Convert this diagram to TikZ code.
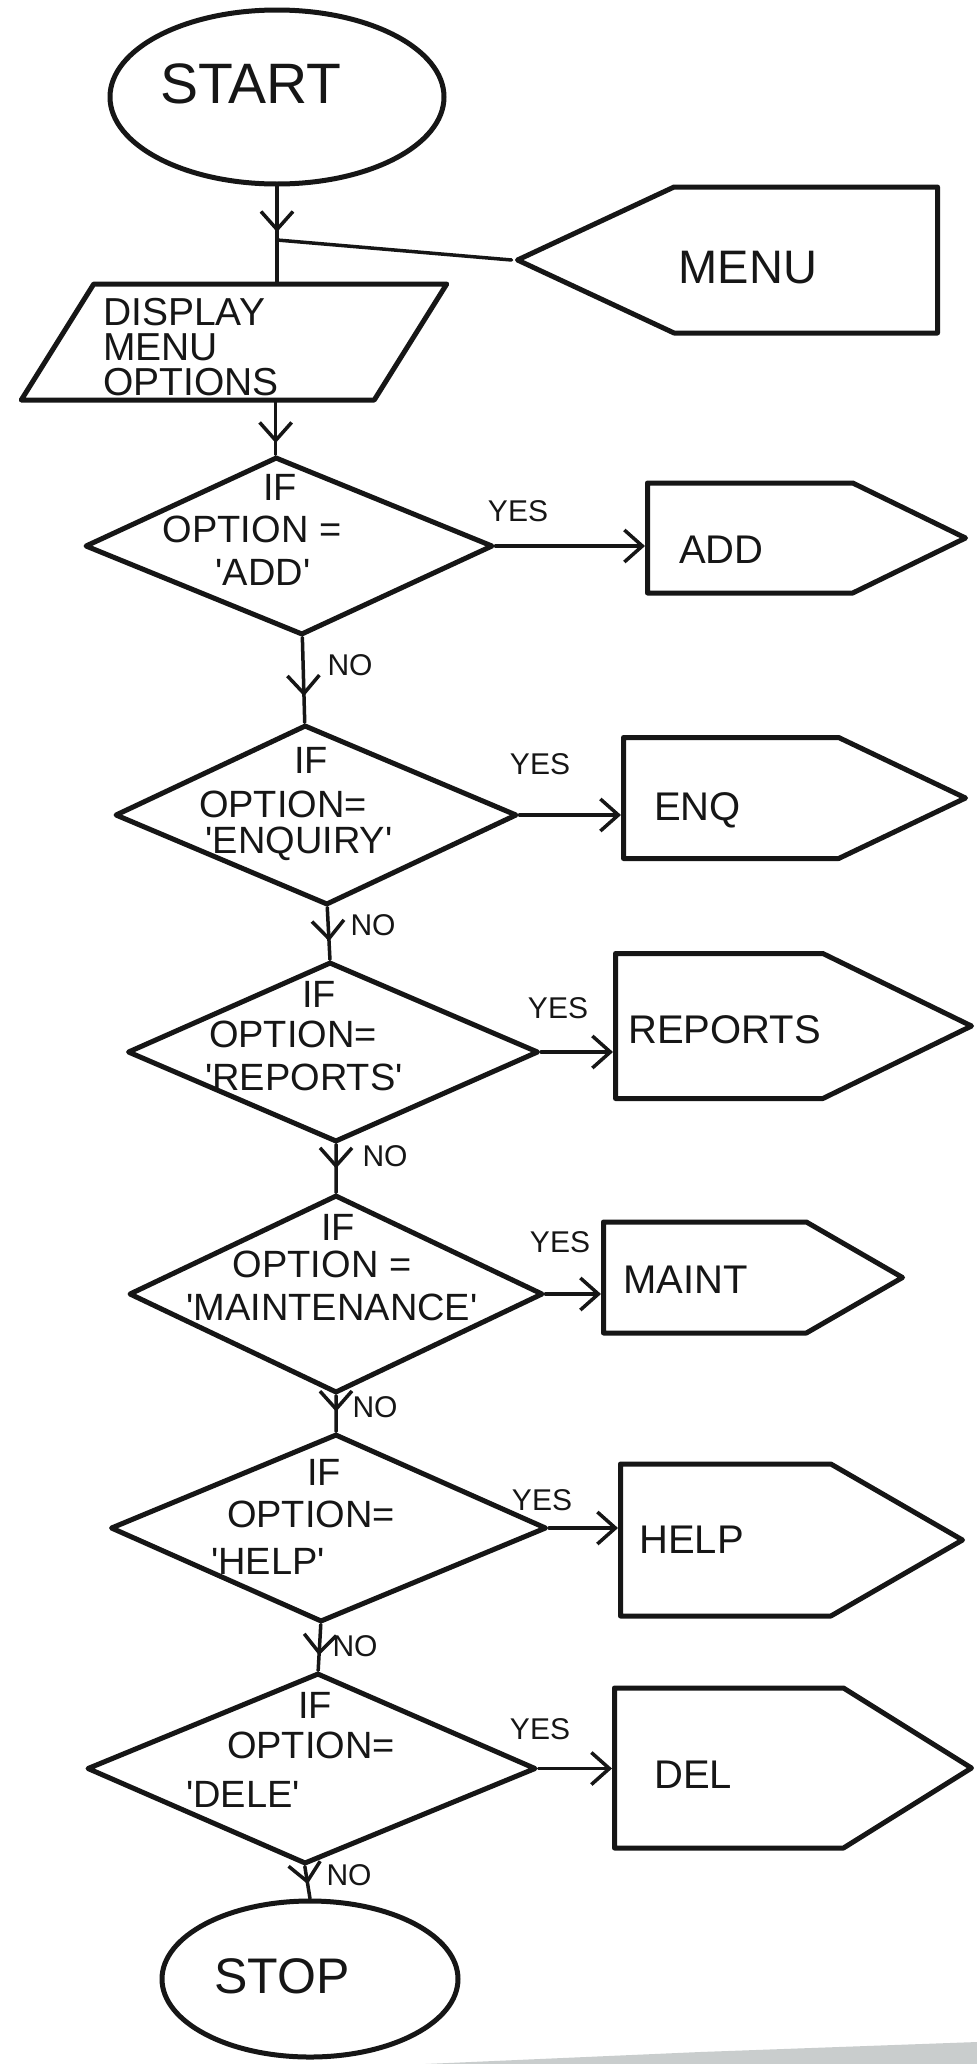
\documentclass[tikz,border=0pt]{standalone}
\usepackage{fontspec}
\setmainfont{Liberation Sans}
\usetikzlibrary{shapes.geometric,shapes.symbols,arrows.meta,decorations.markings}
\definecolor{ink}{HTML}{161616}
\definecolor{scan}{HTML}{C9CDCD}
\newcommand{\hq}{\textquotesingle}
\begin{document}
\begin{tikzpicture}[x=1pt,y=-1pt,
  outline/.style={draw=ink,line width=5pt,line join=round,inner sep=0pt},
  conn/.style={draw=ink,line width=3.5pt,line cap=round},
  tipV/.tip={Straight Barb[length=18pt,width=32pt]},
  flow/.style={conn,-{tipV}},
  midflow/.style={conn,postaction={decorate,decoration={markings,
      mark=at position #1 with {\arrow{tipV}}}}},
  midflow/.default=0.65,
  txt/.style={inner sep=0pt,text=ink},
  endtxt/.style={txt,font=\fontsize{57}{60}\selectfont},
  menutxt/.style={txt,font=\fontsize{47}{50}\selectfont},
  disptxt/.style={txt,anchor=base west,font=\fontsize{39}{40}\selectfont},
  dtxt/.style={txt,anchor=base,font=\fontsize{38}{40}\selectfont},
  btxt/.style={txt,anchor=base west,font=\fontsize{40}{42}\selectfont},
  ytxt/.style={txt,font=\fontsize{30}{32}\selectfont},
  choice/.style={outline,diamond},
  subbox/.style={outline,signal,signal to=east,anchor=west}
]
\fill[white] (0,0) rectangle (977,2064);
\useasboundingbox (0,0) rectangle (977,2064);
\fill[scan] (425,2064) -- (700,2052) -- (977,2042) -- (977,2064) -- cycle;

% terminals
\node[outline,ellipse,minimum width=334pt,minimum height=174pt] (start) at (277,97) {};
\node[endtxt,anchor=base] (startT) at (251,103) {START};
\node[outline,ellipse,minimum width=296pt,minimum height=156pt] (stop) at (310,1979) {};
\node[endtxt,anchor=base,font=\fontsize{50}{52}\selectfont] (stopT) at (282,1993) {STOP};

% menu connector (pointed on its left side)
\node[outline,signal,signal to=west,signal pointer angle=50,anchor=east,
      minimum width=420pt,minimum height=146pt] (menu) at (940,260) {};
\node[menutxt,anchor=base] (menuT) at (748,283) {MENU};

% display step: a slanted rectangle
\node[outline,rectangle,minimum width=353pt,minimum height=116pt,xslant=0.625] (disp) at (234,342) {};
\node[disptxt] (dispA) at (103,325) {DISPLAY};
\node[disptxt] (dispB) at (103,360) {MENU};
\node[disptxt] (dispC) at (103,395) {OPTIONS};

% decisions
\node[choice,minimum width=408pt,minimum height=178pt,xslant=-0.146] (d1) at (289,546) {};
\node[choice,minimum width=402pt,minimum height=180pt,xslant=-0.122] (d2) at (316,815) {};
\node[choice,minimum width=411pt,minimum height=180pt,xslant=-0.033] (d3) at (333,1052) {};
\node[choice,minimum width=414pt,minimum height=198pt] (d4) at (336,1294) {};
\node[choice,minimum width=436pt,minimum height=188pt,xslant=0.08] (d5) at (328.5,1528) {};
\node[choice,minimum width=449pt,minimum height=191pt,xslant=0.068] (d6) at (311.5,1768.5) {};

\node[dtxt] (d1a) at (280,500) {IF};
\node[dtxt] (d1b) at (252,542) {OPTION =};
\node[dtxt] (d1c) at (263,585) {\hq ADD\hq};
\node[dtxt] (d2a) at (311,773) {IF};
\node[dtxt] (d2b) at (283,817) {OPTION=};
\node[dtxt] (d2c) at (299,853) {\hq ENQUIRY\hq};
\node[dtxt] (d3a) at (319,1007) {IF};
\node[dtxt] (d3b) at (293,1047) {OPTION=};
\node[dtxt] (d3c) at (304,1090) {\hq REPORTS\hq};
\node[dtxt] (d4a) at (338,1240) {IF};
\node[dtxt] (d4b) at (322,1277) {OPTION =};
\node[dtxt] (d4c) at (332,1320) {\hq MAINTENANCE\hq};
\node[dtxt] (d5a) at (324,1485) {IF};
\node[dtxt] (d5b) at (311,1527) {OPTION=};
\node[dtxt] (d5c) at (268,1574) {\hq HELP\hq};
\node[dtxt] (d6a) at (315,1718) {IF};
\node[dtxt] (d6b) at (311,1758) {OPTION=};
\node[dtxt] (d6c) at (243,1807) {\hq DELE\hq};

% sub-program boxes, placed by their left edge
\node[subbox,signal pointer angle=52,minimum width=318pt,minimum height=110pt] (add) at (645,538) {};
\node[subbox,signal pointer angle=51,minimum width=342pt,minimum height=121pt] (enq) at (621,798) {};
\node[subbox,signal pointer angle=52,minimum width=356pt,minimum height=145pt] (rep) at (613,1026) {};
\node[subbox,signal pointer angle=60,minimum width=299pt,minimum height=111pt] (maint) at (601,1277.5) {};
\node[subbox,signal pointer angle=60,minimum width=342pt,minimum height=152pt] (help) at (618,1540) {};
\node[subbox,signal pointer angle=64,minimum width=357pt,minimum height=160pt] (del) at (612,1768) {};

\node[btxt] (addT) at (679,563) {ADD};
\node[btxt] (enqT) at (654,820) {ENQ};
\node[btxt] (repT) at (628,1043) {REPORTS};
\node[btxt] (maintT) at (623,1293) {MAINT};
\node[btxt] (helpT) at (639,1553) {HELP};
\node[btxt] (delT) at (654,1788) {DEL};

% main trunk
\coordinate (junc) at (277,240);
\draw[midflow=0.48] (start.south) -- (start.south |- disp.north);
\draw[conn] (menu.west) -- (junc);
\draw[midflow=0.78] (d1.north |- disp.south) -- (d1.north);
\draw[midflow=0.69] (d1.south) -- (d2.north);
\draw[midflow=0.65] (d2.south) -- (d3.north);
\draw[midflow=0.5] (d3.south) -- (d4.north);
\draw[midflow=0.45] (d4.south) -- (d5.north);
\draw[midflow=0.67] (d5.south) -- (d6.north);
\draw[midflow=0.55] (d6.south) -- (stop.north);

% yes branches
\draw[flow] (d1.east) -- (d1.east -| add.west);
\draw[flow] (d2.east) -- (d2.east -| enq.west);
\draw[flow] (d3.east) -- (d3.east -| rep.west);
\draw[flow] (d4.east) -- (d4.east -| maint.west);
\draw[flow] (d5.east) -- (d5.east -| help.west);
\draw[flow] (d6.east) -- (d6.east -| del.west);

% branch labels
\node[ytxt] (y1) at (518,511) {YES};
\node[ytxt] (y2) at (540,764) {YES};
\node[ytxt] (y3) at (558,1008) {YES};
\node[ytxt] (y4) at (560,1242) {YES};
\node[ytxt] (y5) at (542,1500) {YES};
\node[ytxt] (y6) at (540,1729) {YES};
\node[ytxt] (n1) at (350,665) {NO};
\node[ytxt] (n2) at (373,925) {NO};
\node[ytxt] (n3) at (385,1156) {NO};
\node[ytxt] (n4) at (375,1407) {NO};
\node[ytxt] (n5) at (355,1646) {NO};
\node[ytxt] (n6) at (349,1875) {NO};
\end{tikzpicture}
\end{document}
